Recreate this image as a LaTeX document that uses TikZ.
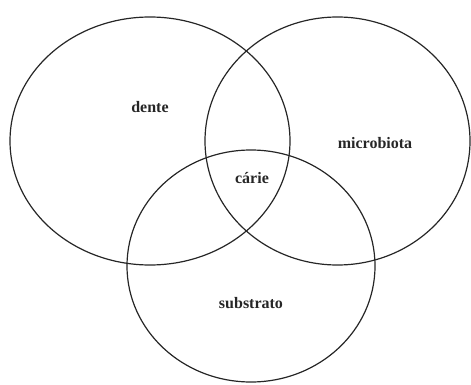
\documentclass[tikz,border=0pt]{standalone}
\usepackage{fontspec}
\setmainfont{Liberation Serif}
\begin{document}
\begin{tikzpicture}[x=1pt,y=-1pt,
  circ/.style={draw=black!85,line width=1.2pt},
  lbl/.style={font=\fontsize{16}{18}\selectfont\bfseries,text=black!85,inner sep=0pt}]
\useasboundingbox (0,0) rectangle (471,385);
\draw[circ] (150,141) ellipse [x radius=140, y radius=124];
\draw[circ] (337.5,141) ellipse [x radius=132.5, y radius=124];
\draw[circ] (251,266) ellipse [x radius=124, y radius=116];
\node[lbl] (dente) at (150,107) {dente};
\node[lbl] (micro) at (375,143) {microbiota};
\node[lbl] (carie) at (252,178) {cárie};
\node[lbl] (subs) at (251,303) {substrato};
\end{tikzpicture}
\end{document}
